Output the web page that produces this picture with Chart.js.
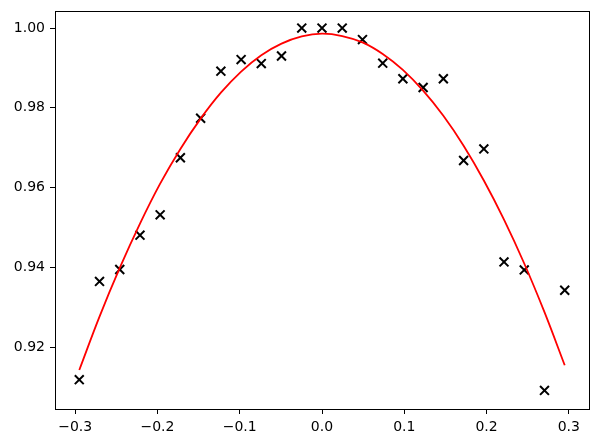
<!DOCTYPE html>
<html>
<head>
<meta charset="utf-8">
<script src="https://cdn.jsdelivr.net/npm/chart.js@4"></script>
<style>
  html, body { margin: 0; padding: 0; background: #fff; }
  #wrap { width: 599px; height: 445px; position: relative; }
</style>
</head>
<body>
<div id="wrap"><canvas id="c"></canvas></div>
<script>
// Sample positions (x) shared by scatter data and fitted curve
const xValues = [-0.295, -0.2704, -0.2458, -0.2212, -0.1967, -0.1721, -0.1475, -0.1229, -0.0983, -0.0738, -0.0492, -0.0246, 0,
                 0.0246, 0.0492, 0.0738, 0.0983, 0.1229, 0.1475, 0.1721, 0.1967, 0.2212, 0.2458, 0.2704, 0.295];
// Measured points (black x markers)
const measured = [0.9119, 0.9365, 0.9395, 0.9481, 0.9532, 0.9675, 0.9774, 0.9892, 0.9921, 0.9911, 0.9930, 1.0000, 1.0000,
                  1.0000, 0.9971, 0.9912, 0.9873, 0.9851, 0.9873, 0.9668, 0.9697, 0.9414, 0.9394, 0.9092, 0.9343];
// Fitted curve (red line)
const fitted = [0.9143, 0.9277, 0.9399, 0.9510, 0.9610, 0.9697, 0.9773, 0.9838, 0.9891, 0.9932, 0.9961, 0.9979, 0.9986,
                0.9980, 0.9964, 0.9935, 0.9895, 0.9843, 0.9780, 0.9705, 0.9618, 0.9520, 0.9410, 0.9288, 0.9155];
// Tick labels
const xTicks = [-0.3, -0.2, -0.1, 0.0, 0.1, 0.2, 0.3];
const yTicks = [0.92, 0.94, 0.96, 0.98, 1.00];

const fmtX = v => (v < 0 ? '\u2212' : '') + Math.abs(v).toFixed(1);
const fmtY = v => v.toFixed(2);

const frame = {
  id: 'frame',
  afterDatasetsDraw(chart) {
    const a = chart.chartArea, ctx = chart.ctx;
    ctx.save();
    ctx.strokeStyle = '#000';
    ctx.lineWidth = 1;
    ctx.strokeRect(Math.round(a.left) + 0.5, Math.round(a.top) + 0.5,
                   Math.round(a.right - a.left), Math.round(a.bottom - a.top));
    ctx.restore();
  }
};

new Chart(document.getElementById('c'), {
  type: 'scatter',
  data: {
    datasets: [
      {
        type: 'line',
        data: xValues.map((x, i) => ({ x: x, y: fitted[i] })),
        borderColor: '#ff0000',
        borderWidth: 1.8,
        pointRadius: 0,
        tension: 0.4,
        fill: false
      },
      {
        data: xValues.map((x, i) => ({ x: x, y: measured[i] })),
        pointStyle: 'crossRot',
        pointRadius: 6.3,
        borderColor: '#000',
        backgroundColor: '#000',
        borderWidth: 2
      }
    ]
  },
  options: {
    responsive: true,
    maintainAspectRatio: false,
    animation: false,
    layout: { padding: { left: 0, right: 10, top: 11, bottom: 0 } },
    plugins: { legend: { display: false }, tooltip: { enabled: false } },
    scales: {
      x: {
        type: 'linear',
        min: -0.3245, max: 0.3245,
        afterBuildTicks: s => { s.ticks = xTicks.map(v => ({ value: v })); },
        afterFit: s => { s.height = 36; s.paddingLeft = 0; s.paddingRight = 0; },
        grid: { display: true, drawOnChartArea: false, drawTicks: true, tickLength: 5, color: '#000', lineWidth: 1 },
        border: { display: true, color: '#000', width: 1 },
        ticks: { callback: v => fmtX(v), color: '#000', font: { family: 'DejaVu Sans', size: 14 }, padding: 5, maxRotation: 0, autoSkip: false }
      },
      y: {
        type: 'linear',
        min: 0.90454, max: 1.00427,
        afterBuildTicks: s => { s.ticks = yTicks.map(v => ({ value: v })); },
        afterFit: s => { s.width = 55; s.paddingTop = 0; s.paddingBottom = 0; },
        grid: { display: true, drawOnChartArea: false, drawTicks: true, tickLength: 5, color: '#000', lineWidth: 1 },
        border: { display: true, color: '#000', width: 1 },
        ticks: { callback: v => fmtY(v), color: '#000', font: { family: 'DejaVu Sans', size: 14 }, padding: 5, autoSkip: false }
      }
    }
  },
  plugins: [frame]
});
</script>
</body>
</html>
